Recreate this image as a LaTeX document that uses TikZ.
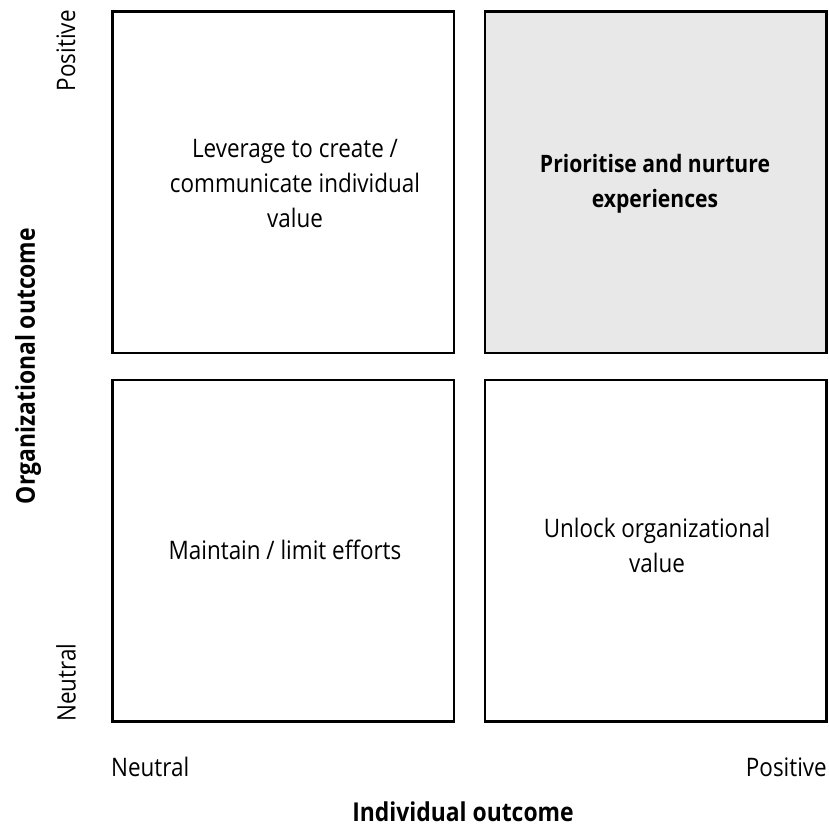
\documentclass[tikz,border=0pt]{standalone}
\usepackage{fontspec}
\setmainfont[FakeStretch=0.88]{Open Sans}
\begin{document}
\begin{tikzpicture}[x=1pt,y=-1pt,
  quad/.style={draw=black,line width=2.6pt},
  lbl/.style={font=\fontsize{25.5}{35}\selectfont,align=center,inner sep=0pt},
  axis/.style={font=\fontsize{25.5}{30}\selectfont,inner sep=0pt},
  axtitle/.style={font=\fontsize{26}{30}\selectfont\bfseries,inner sep=0pt}]
\useasboundingbox (0,0) rectangle (829,829);
\draw[quad] (112.5,11.5) rectangle (454,353) node[midway] (tl) {};
\draw[quad,fill=black!9] (485,11.5) rectangle (826.5,353) node[midway] (tr) {};
\draw[quad] (112.5,380) rectangle (454,721.5) node[midway] (bl) {};
\draw[quad] (485,380) rectangle (826.5,721.5) node[midway] (br) {};
\node[lbl] (tlt) at (295,184) {Leverage to create /\\communicate individual\\value};
\node[lbl,font=\fontsize{24}{35}\selectfont\bfseries] (trt) at (655,184) {Prioritise and nurture\\experiences};
\node[lbl] (blt) at (285,550) {Maintain / limit efforts};
\node[lbl] (brt) at (657,545) {Unlock organizational\\value};
\node[axis,rotate=90,anchor=east] (ypos) at (66,10) {Positive};
\node[axis,rotate=90,anchor=west] (yneu) at (66,722) {Neutral};
\node[axtitle,rotate=90] (ytit) at (28,366) {Organizational outcome};
\node[axis,anchor=west] (xneu) at (111,767) {Neutral};
\node[axis,anchor=east] (xpos) at (827,767) {Positive};
\node[axtitle] (xtit) at (463,812) {Individual outcome};
\end{tikzpicture}
\end{document}
